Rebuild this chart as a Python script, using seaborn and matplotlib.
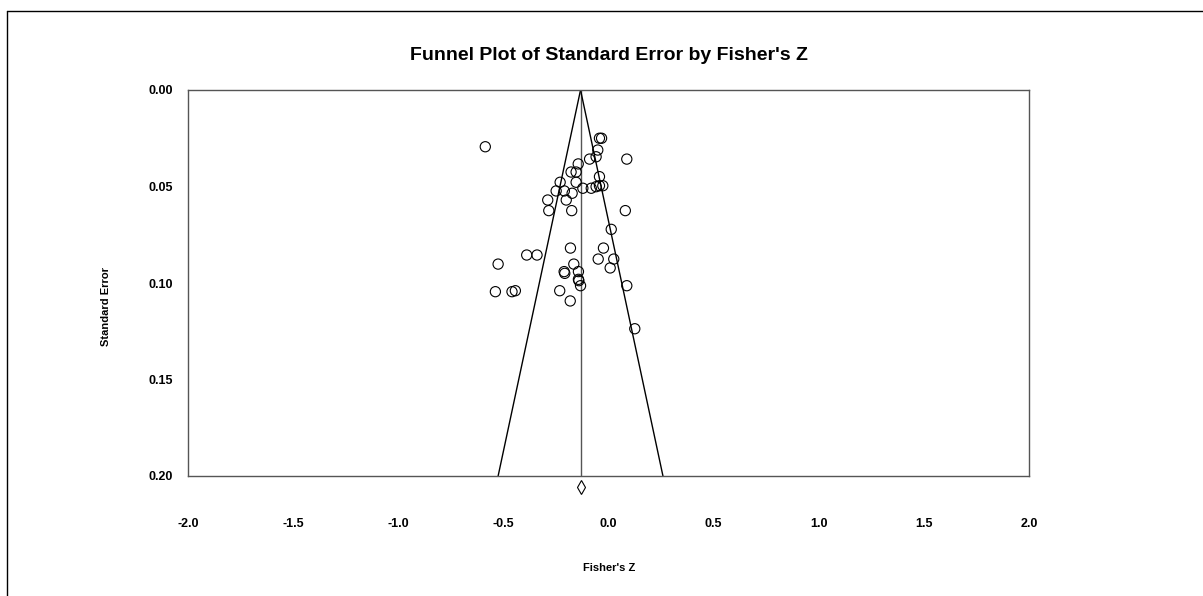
import matplotlib
matplotlib.use("Agg")
import matplotlib.pyplot as plt
from matplotlib.lines import Line2D
from matplotlib.ticker import FormatStrFormatter
import seaborn as sns
import pandas as pd

# studies
fisher_z = [-0.586, -0.043, -0.033, -0.051, 0.087, -0.090, -0.059, -0.144,
            -0.178, -0.154, -0.043, -0.230, -0.154, -0.122, -0.082, -0.059,
            -0.043, -0.027, -0.249, -0.210, -0.173, -0.289, -0.201, -0.284,
            -0.175, 0.080, 0.013, -0.181, -0.024, -0.389, -0.340, -0.525,
            -0.165, -0.049, 0.025, 0.008, -0.211, -0.208, -0.143, -0.143,
            -0.141, -0.133, 0.087, -0.538, -0.459, -0.443, -0.232, -0.182,
            0.125]
std_err = [0.0294, 0.0250, 0.0250, 0.0311, 0.0358, 0.0358, 0.0346, 0.0383,
           0.0425, 0.0425, 0.0449, 0.0478, 0.0478, 0.0509, 0.0509, 0.0501,
           0.0496, 0.0496, 0.0523, 0.0523, 0.0535, 0.0570, 0.0570, 0.0625,
           0.0625, 0.0625, 0.0722, 0.0819, 0.0819, 0.0855, 0.0855, 0.0902,
           0.0902, 0.0876, 0.0876, 0.0922, 0.0941, 0.0950, 0.0941, 0.0981,
           0.0988, 0.1014, 0.1014, 0.1045, 0.1045, 0.1040, 0.1040, 0.1093,
           0.1237]
summary_z = -0.133
se_max = 0.20
x_ticks = [-2.0, -1.5, -1.0, -0.5, 0.0, 0.5, 1.0, 1.5, 2.0]
y_ticks = [0.00, 0.05, 0.10, 0.15, 0.20]

df = pd.DataFrame({"z": fisher_z, "se": std_err})

sns.set_theme(style="white")
plt.rcParams["font.family"] = ["Liberation Sans", "DejaVu Sans"]
plt.rcParams["text.color"] = "black"

fig = plt.figure(figsize=(12.03, 5.96), dpi=100)
ax = fig.add_axes([188 / 1203, 1 - 476 / 596, 841 / 1203, 386 / 596])

# funnel: summary line and 95% limits
ax.plot([summary_z, summary_z], [0, se_max], color="#555555", lw=1)
ax.plot([summary_z, summary_z - 1.96 * se_max], [0, se_max], color="black", lw=1)
ax.plot([summary_z, summary_z + 1.96 * se_max], [0, se_max], color="black", lw=1)

sns.scatterplot(data=df, x="z", y="se", ax=ax, marker="o", s=54,
                facecolor="none", edgecolor="black", linewidth=0.8, zorder=3)

# summary diamond below the axis
ax.plot([summary_z], [0.2055], marker="d", markersize=7, mfc="white",
        mec="black", mew=0.8, clip_on=False)

ax.set_xlim(-2.0, 2.0)
ax.set_ylim(se_max, 0)
ax.set_xticks(x_ticks)
ax.set_yticks(y_ticks)
ax.xaxis.set_major_formatter(FormatStrFormatter("%.1f"))
ax.yaxis.set_major_formatter(FormatStrFormatter("%.2f"))
ax.tick_params(axis="both", direction="out", length=3, width=1, color="#555555",
               labelsize=9, labelcolor="black")
ax.tick_params(axis="x", pad=27)
ax.tick_params(axis="y", pad=8)
for lab in ax.get_xticklabels() + ax.get_yticklabels():
    lab.set_fontweight("bold")
for sp in ax.spines.values():
    sp.set_color("#555555")
    sp.set_linewidth(1)
ax.set_xlabel("")
ax.set_ylabel("")

fig.text(608.5 / 1203, 1 - 55 / 596, "Funnel Plot of Standard Error by Fisher's Z",
         ha="center", va="center", fontsize=14, fontweight="bold", color="black")
fig.text(106 / 1203, 1 - 307 / 596, "Standard Error", rotation=90,
         ha="center", va="center", fontsize=8, fontweight="bold", color="black")
fig.text(609 / 1203, 1 - 568 / 596, "Fisher's Z", ha="center", va="center",
         fontsize=8, fontweight="bold", color="black")

# outer frame (only top and left visible)
fig.add_artist(Line2D([7 / 1203, 1.0], [1 - 11 / 596, 1 - 11 / 596],
                      transform=fig.transFigure, color="black", lw=1))
fig.add_artist(Line2D([7 / 1203, 7 / 1203], [1 - 11 / 596, 0.0],
                      transform=fig.transFigure, color="black", lw=1))

fig.savefig("out.png", dpi=100)
